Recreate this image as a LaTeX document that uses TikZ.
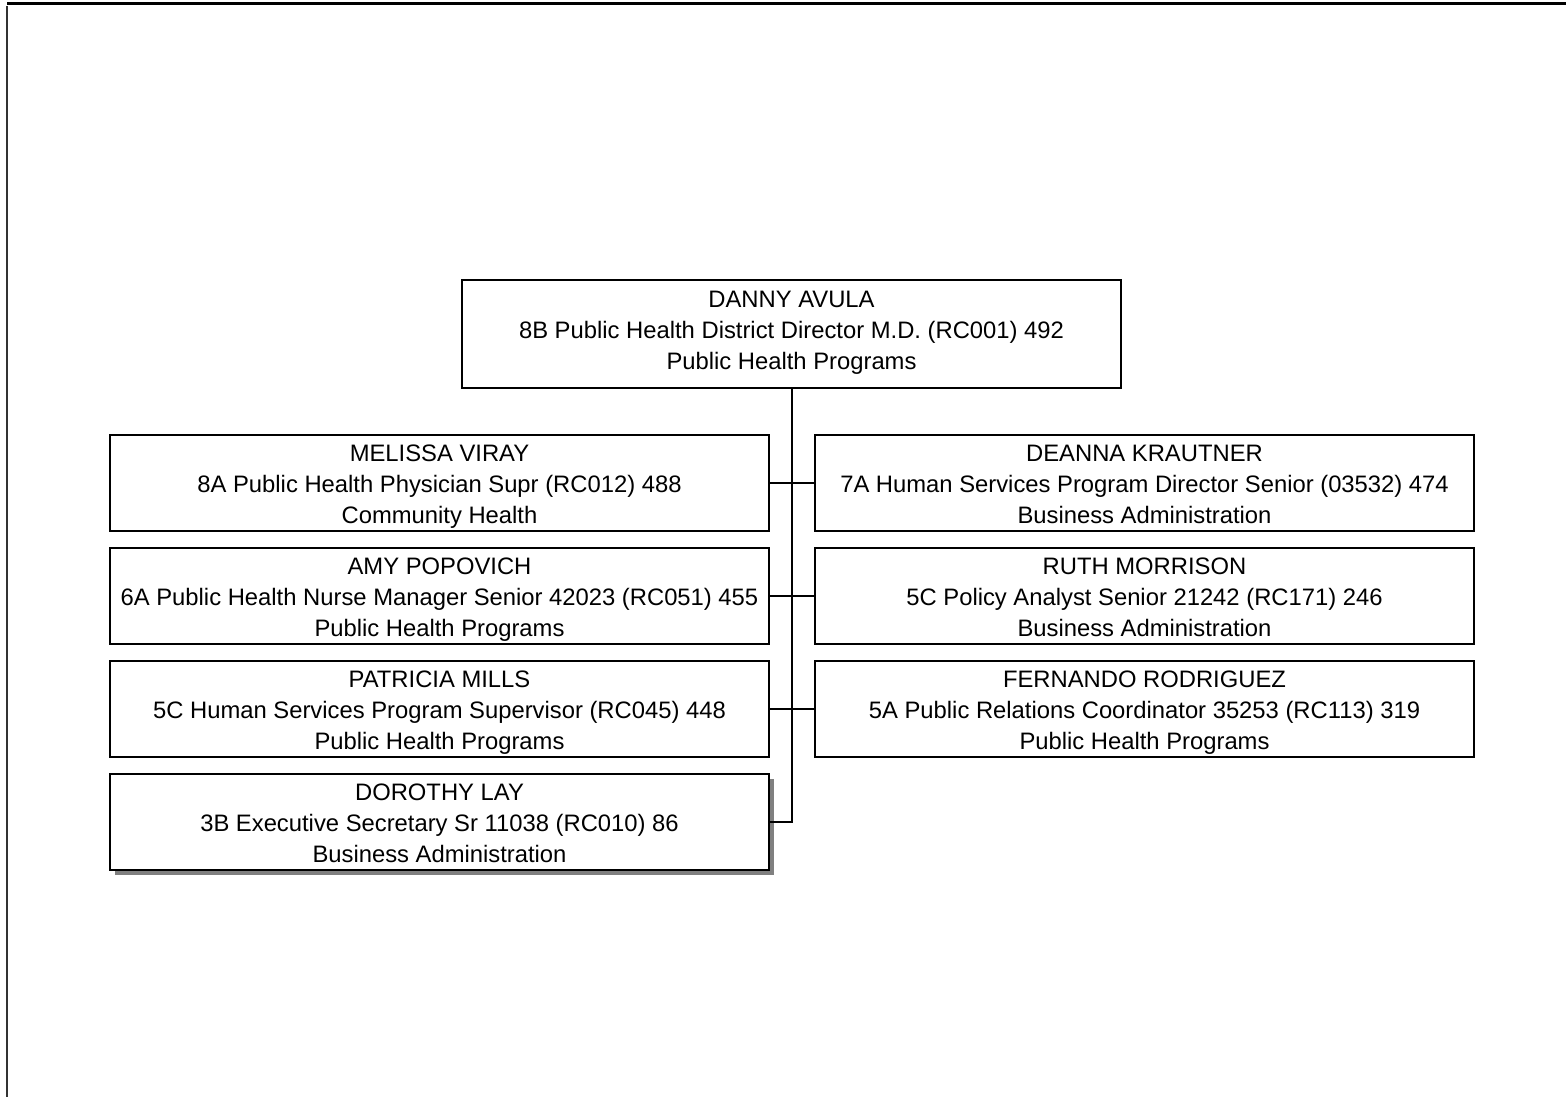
\documentclass[tikz,border=0pt]{standalone}
\usepackage{fontspec}
\setmainfont{Liberation Sans}
\usetikzlibrary{shadows}
% three centred lines with fixed top and bottom struts
\newcommand\orgtext[4][13.2pt]{\rule{0pt}{#1}#2\\#3\\#4\rule[-3.8pt]{0pt}{0pt}}
\begin{document}
\begin{tikzpicture}[x=0.5pt,y=-0.5pt,
  orgbox/.style={draw=black, line width=1pt, fill=white, align=center,
    minimum width=329.5pt, minimum height=48pt, inner sep=0pt,
    font=\fontsize{11.9}{15.5}\selectfont},
  link/.style={draw=black, line width=1pt}]
\useasboundingbox (0,0) rectangle (1566,1097);
% page frame edges
\draw[line width=1.5pt] (7,4) -- (1566,4);
\draw[line width=1pt, black!80] (7,6) -- (7,1097);

% director
\node[orgbox, minimum height=54pt] (top) at (791.5,334)
  {\orgtext[7.2pt]{DANNY AVULA}{8B Public Health District Director  M.D. (RC001) 492}{Public Health Programs}};

% left column
\node[orgbox] (l1) at (439.5,483)
  {\orgtext{MELISSA VIRAY}{8A Public Health Physician Supr (RC012) 488}{Community Health}};
\node[orgbox] (l2) at (439.5,596)
  {\orgtext{AMY POPOVICH}{6A Public Health Nurse Manager Senior  42023 (RC051) 455}{Public Health Programs}};
\node[orgbox] (l3) at (439.5,709)
  {\orgtext{PATRICIA MILLS}{5C Human Services Program Supervisor (RC045) 448}{Public Health Programs}};
\node[orgbox, drop shadow={shadow xshift=2.5pt, shadow yshift=-2.5pt, fill=black!50, opacity=1}] (l4) at (439.5,822)
  {\orgtext{DOROTHY LAY}{3B Executive Secretary Sr 11038 (RC010) 86}{Business Administration}};

% right column
\node[orgbox] (r1) at (1144.5,483)
  {\orgtext{DEANNA KRAUTNER}{7A Human Services Program Director Senior (03532) 474}{Business Administration}};
\node[orgbox] (r2) at (1144.5,596)
  {\orgtext{RUTH MORRISON}{5C Policy Analyst Senior 21242 (RC171) 246}{Business Administration}};
\node[orgbox] (r3) at (1144.5,709)
  {\orgtext{FERNANDO RODRIGUEZ}{5A Public Relations Coordinator 35253 (RC113) 319}{Public Health Programs}};

% reporting lines
\draw[link] (top.south) |- (l4.east);
\draw[link] (l1.east) -- (r1.west);
\draw[link] (l2.east) -- (r2.west);
\draw[link] (l3.east) -- (r3.west);
\end{tikzpicture}
\end{document}
